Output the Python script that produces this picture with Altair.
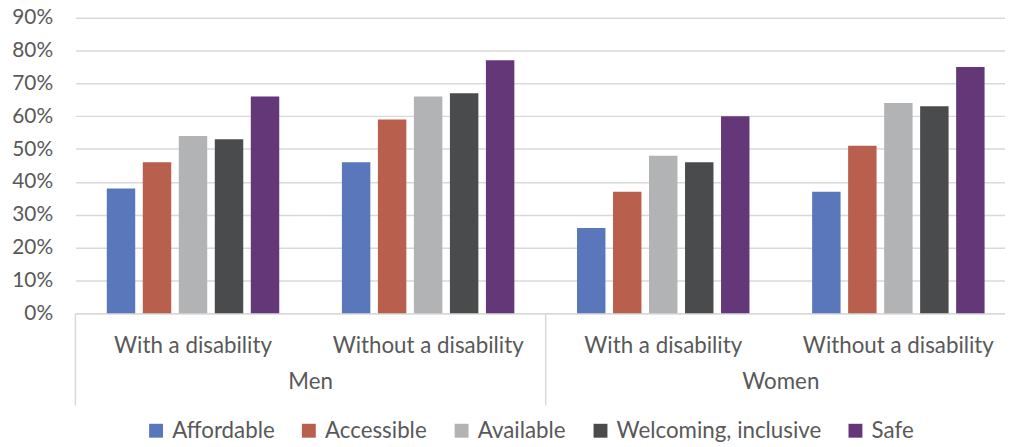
import altair as alt
import pandas as pd

# ---- data ----
genders = ["Men", "Men", "Women", "Women"]
groups = ["With a disability", "Without a disability", "With a disability", "Without a disability"]
criteria = ["Affordable", "Accessible", "Available", "Welcoming, inclusive", "Safe"]
affordable = [38, 46, 26, 37]
accessible = [46, 59, 37, 51]
available = [54, 66, 48, 64]
welcoming = [53, 67, 46, 63]
safe = [66, 77, 60, 75]
colors = ["#5A77BB", "#B95F4E", "#B2B3B4", "#4A4B4D", "#633778"]
gender_labels = ["Men", "Women"]

series = [affordable, accessible, available, welcoming, safe]
cats = [f"{g}|{s}" for g, s in zip(genders, groups)]
rows = []
for crit, vals in zip(criteria, series):
    for c, v in zip(cats, vals):
        rows.append({"cat": c, "criterion": crit, "value": v / 100})
df = pd.DataFrame(rows)

first_cats = [cats[genders.index(g)] for g in gender_labels]
gdf = pd.DataFrame({"cat": first_cats, "label": gender_labels})

FONT = "Lato"
FS = 22.5
YFS = 21
GREY = "#595959"
LINE = "#D9D9D9"

x_scale = alt.Scale(domain=cats, range=[0, 948], paddingInner=0, paddingOuter=0)
x_axis = alt.Axis(title=None,
                  labelExpr="substring(datum.label, indexof(datum.label, '|') + 1)",
                  ticks=False, tickSize=0, domainColor=LINE, domainWidth=1.5,
                  labelFont=FONT, labelFontSize=FS, labelColor=GREY,
                  labelBaseline="alphabetic", labelPadding=40, labelAngle=0,
                  labelOverlap=False, labelLimit=0)

bars = alt.Chart(df).mark_bar().encode(
    x=alt.X("cat:N", scale=x_scale, sort=cats, axis=x_axis),
    xOffset=alt.XOffset("criterion:N", sort=criteria,
                        scale=alt.Scale(paddingInner=0.21, paddingOuter=0.87)),
    y=alt.Y("value:Q", scale=alt.Scale(domain=[0, 0.9]),
            axis=alt.Axis(title=None, format="%", values=[i / 10 for i in range(10)],
                          domain=False, ticks=False, tickSize=0, gridColor=LINE, gridWidth=1.5,
                          labelFont=FONT, labelFontSize=YFS, labelColor=GREY, labelPadding=23)),
    color=alt.Color("criterion:N", sort=criteria,
                    scale=alt.Scale(domain=criteria, range=colors),
                    legend=alt.Legend(title=None, orient="none", direction="horizontal",
                                      legendX=70, legendY=405, columns=5,
                                      symbolType="square", symbolSize=196, symbolStrokeWidth=0,
                                      labelFont=FONT, labelFontSize=FS, labelColor=GREY,
                                      labelOffset=5, columnPadding=23, labelLimit=0)),
)

gtext = alt.Chart(gdf).mark_text(font=FONT, fontSize=FS, color=GREY, baseline="alphabetic").encode(
    x=alt.X("cat:N", scale=x_scale, sort=cats, bandPosition=1, axis=x_axis),
    y=alt.value(374),
    text="label:N",
)

seps = alt.Chart(gdf).mark_rule(color=LINE, strokeWidth=1.5).encode(
    x=alt.X("cat:N", scale=x_scale, sort=cats, bandPosition=0, axis=x_axis),
    y=alt.value(298),
    y2=alt.value(391),
)

chart = alt.layer(bars, seps, gtext).properties(
    width=937, height=298,
    autosize=alt.AutoSizeParams(type="none"),
    padding={"left": 68, "top": 8, "right": 0, "bottom": 130},
    background="white",
).configure_view(stroke=None)

chart.save("out.html", embed_options={"renderer": "svg", "actions": False})
